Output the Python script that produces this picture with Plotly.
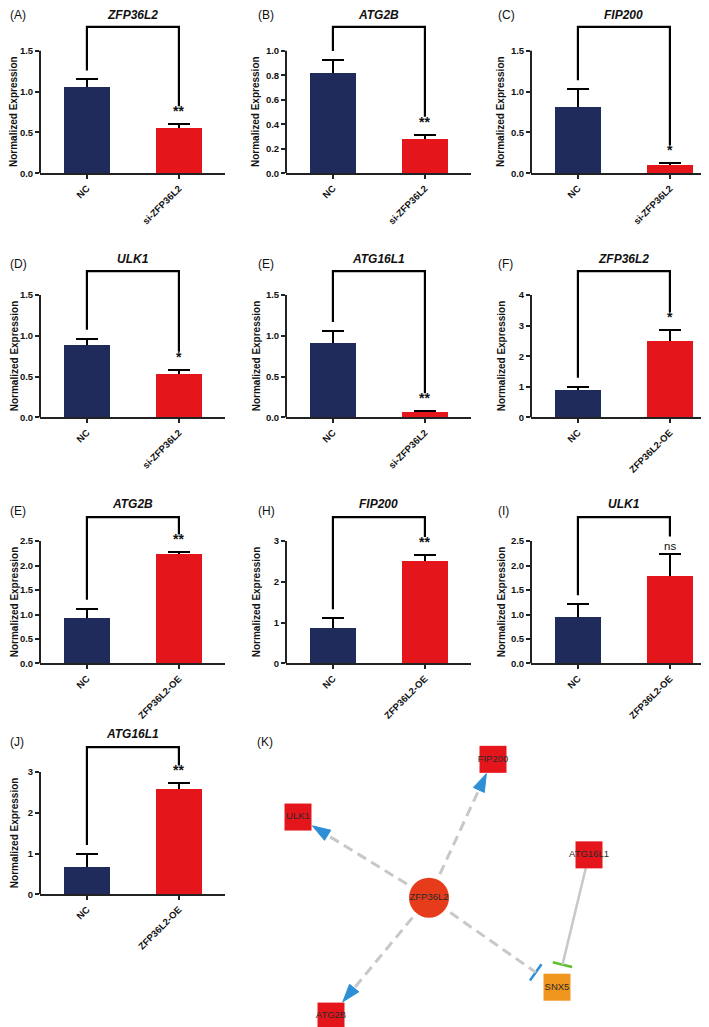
import numpy as np
import plotly.graph_objects as go

# ---------------- data ----------------
genes = ["ZFP36L2", "ATG2B", "FIP200", "ULK1", "ATG16L1",
         "ZFP36L2", "ATG2B", "FIP200", "ULK1", "ATG16L1"]
panel_tags = ["(A)", "(B)", "(C)", "(D)", "(E)", "(F)", "(E)", "(H)", "(I)", "(J)"]
knockdown_groups = ["NC", "si-ZFP36L2"]
overexp_groups = ["NC", "ZFP36L2-OE"]

nc_mean = [1.06, 0.82, 0.81, 0.89, 0.91, 0.90, 0.92, 0.87, 0.94, 0.67]
nc_err = [0.09, 0.105, 0.22, 0.075, 0.15, 0.11, 0.20, 0.24, 0.27, 0.32]
trt_mean = [0.55, 0.28, 0.10, 0.53, 0.065, 2.48, 2.23, 2.51, 1.78, 2.59]
trt_err = [0.05, 0.035, 0.025, 0.055, 0.013, 0.38, 0.04, 0.15, 0.45, 0.13]
signif = ["**", "**", "*", "*", "**", "*", "**", "**", "ns", "**"]

ytick_max = [1.5, 1.0, 1.5, 1.5, 1.5, 4, 2.5, 3, 2.5, 3]
ytick_step = [0.5, 0.2, 0.5, 0.5, 0.5, 1, 0.5, 1, 0.5, 1]

# network (K): node positions in the panel's pixel space
net_nodes = ["ZFP36L2", "ULK1", "FIP200", "ATG16L1", "SNX5", "ATG2B"]
net_kind = ["hub", "target", "target", "target", "partner", "target"]
net_x = [421, 290, 485, 581, 549, 323]
net_y = [894, 813, 755, 851, 984, 1013]
edge_src = ["ZFP36L2", "ZFP36L2", "ZFP36L2", "ZFP36L2", "ATG16L1"]
edge_dst = ["ULK1", "FIP200", "ATG2B", "SNX5", "SNX5"]
edge_type = ["activate", "activate", "activate", "inhibit", "inhibit"]

# ---------------- layout constants (px) ----------------
W, H = 709, 1027
COL_AXIS_PX = [32, 278, 523]
COL_YLABEL_PX = [6, 248, 493]
ROW_ZERO_PX = [166, 411.5, 658.7, 890.7]
ROW_BRACKET_PX = [19, 264.5, 511.7, 742.7]
ROW_TITLE_PX = [7, 252, 498, 730]
ROW_TAG_PX = [7, 257, 505, 738]
COL_TAG_PX = [0, 248, 488]
TICK_SPAN_PX = 123
CAT_PX = 92
X_RANGE = [-0.51, 1.5]

NAVY = "#1f2b5b"
RED = "#e5151c"
FONT = "Liberation Sans, Arial, sans-serif"


def py(v):
    return 1 - v / H


fig = go.Figure()
shapes, annotations, axes = [], [], {}

for i in range(10):
    r, c = divmod(i, 3)
    n = i + 1
    sfx = "" if n == 1 else str(n)
    xid, yid = "x" + sfx, "y" + sfx
    groups = knockdown_groups if i < 5 else overexp_groups

    unit = TICK_SPAN_PX / ytick_max[i]  # px per data unit
    zero = ROW_ZERO_PX[r]
    top = ROW_BRACKET_PX[r] - 3
    x0 = COL_AXIS_PX[c]
    x1 = x0 + CAT_PX * (X_RANGE[1] - X_RANGE[0])

    ticks = np.round(np.arange(0, ytick_max[i] + 1e-9, ytick_step[i]), 3)
    fmt = "{:.1f}" if ytick_step[i] < 1 else "{:.0f}"
    tickfont = dict(size=9.5, family=FONT, weight="bold", color="#111")

    axes["xaxis" + sfx] = dict(
        domain=[x0 / W, x1 / W], anchor=yid, range=X_RANGE,
        tickvals=[0, 1], ticktext=groups, tickangle=-45,
        showline=True, linecolor="#222", linewidth=2,
        ticks="outside", ticklen=4, tickwidth=1.5, tickcolor="#222",
        showgrid=False, zeroline=False,
        tickfont=dict(size=9.5, family=FONT, weight="bold", color="#111"))
    axes["yaxis" + sfx] = dict(
        domain=[py(zero), py(top)], anchor=xid, range=[0, (zero - top) / unit],
        tickvals=list(ticks), ticktext=[fmt.format(t) for t in ticks],
        showline=False, ticks="outside", ticklen=4, tickwidth=1.5,
        tickcolor="#222", showgrid=False, zeroline=False, tickfont=tickfont)

    means = [nc_mean[i], trt_mean[i]]
    errs = [nc_err[i], trt_err[i]]
    # error bars first, then the same bars on top so only the upper whisker shows
    fig.add_trace(go.Bar(
        x=[0, 1], y=means, width=0.5,
        marker=dict(color=[NAVY, RED], line=dict(width=0)),
        error_y=dict(type="data", array=errs, color="black", thickness=2, width=11),
        xaxis=xid, yaxis=yid, showlegend=False, hoverinfo="skip"))
    fig.add_trace(go.Bar(
        x=[0, 1], y=means, width=0.5,
        marker=dict(color=[NAVY, RED], line=dict(width=0)),
        xaxis=xid, yaxis=yid, showlegend=False, hoverinfo="skip"))

    # y axis line only up to the last tick
    shapes.append(dict(type="line", xref=xid + " domain", yref=yid,
                       x0=0, x1=0, y0=0, y1=ytick_max[i],
                       line=dict(color="#222", width=2)))

    # significance bracket
    left_h = nc_mean[i] + nc_err[i] + 9 / unit
    right_h = trt_mean[i] + trt_err[i] + 18 / unit
    top_h = (zero - ROW_BRACKET_PX[r]) / unit
    shapes.append(dict(type="path", xref=xid, yref=yid,
                       path=f"M 0,{left_h} L 0,{top_h} L 1,{top_h} L 1,{right_h}",
                       line=dict(color="black", width=2.2)))

    annotations += [
        dict(x=0.5, xref=xid, y=py(ROW_TITLE_PX[r]), yref="paper",
             xanchor="center", yanchor="middle",
             text=f"<b><i>{genes[i]}</i></b>", showarrow=False,
             font=dict(size=12, family=FONT, color="#111")),
        dict(x=COL_TAG_PX[c] / W, xref="paper", xanchor="left",
             y=py(ROW_TAG_PX[r]), yref="paper", yanchor="middle", text=panel_tags[i],
             showarrow=False, font=dict(size=12, family=FONT, color="#111")),
        dict(x=COL_YLABEL_PX[c] / W, xref="paper", y=py(zero - TICK_SPAN_PX / 2),
             yref="paper", xanchor="center", yanchor="middle",
             text="<b>Normalized Expression</b>", textangle=-90,
             showarrow=False, font=dict(size=10, family=FONT, color="#111")),
        dict(x=1, xref=xid, y=trt_mean[i] + trt_err[i], yref=yid,
             yanchor="bottom", yshift=3 if signif[i] != "ns" else 0,
             text=signif[i] if signif[i] == "ns" else f"<b>{signif[i]}</b>",
             showarrow=False,
             font=dict(size=14 if signif[i] != "ns" else 11.5, family=FONT, color="#111")),
    ]

# ---------------- network panel (K) ----------------
NET_TOP = 735
axes["xaxis11"] = dict(domain=[240 / W, 1], range=[240, W], anchor="y11", visible=False)
axes["yaxis11"] = dict(domain=[0, py(NET_TOP)], range=[H, NET_TOP], anchor="x11", visible=False)
annotations.append(dict(x=247 / W, xref="paper", xanchor="left", y=py(738), yref="paper",
                        yanchor="middle", text="(K)", showarrow=False,
                        font=dict(size=12, family=FONT, color="#111")))

pos = {nm: np.array([x, y], float) for nm, x, y in zip(net_nodes, net_x, net_y)}
kind = dict(zip(net_nodes, net_kind))


def extent(nm, u):
    if kind[nm] == "hub":
        return 20
    return 13.5 / max(abs(u[0]), abs(u[1]))


head_x, head_y = [], []
for s, d, t in zip(edge_src, edge_dst, edge_type):
    a, b = pos[s], pos[d]
    u = (b - a) / np.linalg.norm(b - a)
    nrm = np.array([-u[1], u[0]])
    start = a + u * (extent(s, u) + (6 if kind[s] == "hub" else 0))
    dashed = kind[s] == "hub"
    if t == "activate":
        tip = b - u * (extent(d, u) + 1)
        base = tip - u * 18
        end = base
        head_x += [tip[0], (base + nrm * 6)[0], (base - nrm * 6)[0], tip[0], None]
        head_y += [tip[1], (base + nrm * 6)[1], (base - nrm * 6)[1], tip[1], None]
    else:
        end = b - u * (extent(d, u) + 9.5)
        bar_col = "#2f8fd6" if dashed else "#5cc02a"
        p, q = end + nrm * 10, end - nrm * 10
        fig.add_trace(go.Scatter(x=[p[0], q[0]], y=[p[1], q[1]], mode="lines",
                                 line=dict(color=bar_col, width=2.5),
                                 xaxis="x11", yaxis="y11", showlegend=False,
                                 hoverinfo="skip"))
    fig.add_trace(go.Scatter(
        x=[start[0], end[0]], y=[start[1], end[1]], mode="lines",
        line=dict(color="#c8c8c8", width=3 if dashed else 2.5,
                  dash="10px,6px" if dashed else "solid"),
        xaxis="x11", yaxis="y11", showlegend=False, hoverinfo="skip"))

fig.add_trace(go.Scatter(x=head_x, y=head_y, mode="lines", fill="toself",
                         fillcolor="#2f8fd6", line=dict(color="#2f8fd6", width=1),
                         xaxis="x11", yaxis="y11", showlegend=False, hoverinfo="skip"))

node_col = {"hub": "#e63c1c", "target": RED, "partner": "#f0961e"}
node_sym = {"hub": "circle", "target": "square", "partner": "square"}
node_size = {"hub": 40, "target": 27, "partner": 27}
fig.add_trace(go.Scatter(
    x=net_x, y=net_y, mode="markers+text", text=net_nodes,
    textposition="middle center", cliponaxis=False,
    textfont=dict(size=9.5, family=FONT, color="#2a2a2a"),
    marker=dict(symbol=[node_sym[k] for k in net_kind],
                size=[node_size[k] for k in net_kind], opacity=1,
                color=[node_col[k] for k in net_kind], line=dict(width=0)),
    xaxis="x11", yaxis="y11", showlegend=False, hoverinfo="skip"))

fig.update_layout(
    width=W, height=H, margin=dict(l=0, r=0, t=0, b=0),
    paper_bgcolor="white", plot_bgcolor="white",
    font=dict(family=FONT, color="#111"), barmode="overlay",
    shapes=shapes, annotations=annotations, bargap=0, **axes)

fig.write_html("out.html")
